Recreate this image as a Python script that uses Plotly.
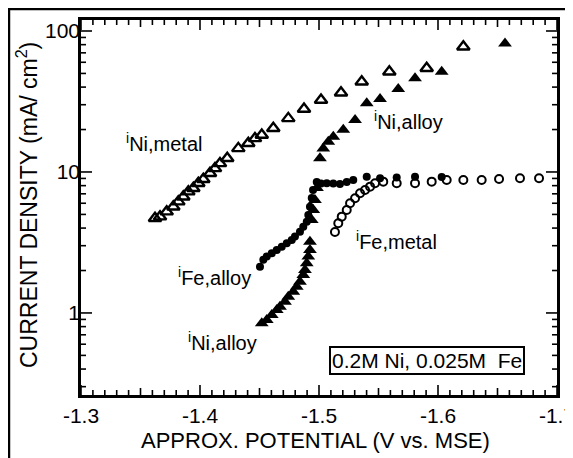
import math
import plotly.graph_objects as go

# ---------------- data ----------------
ni_metal_x = [-1.3622, -1.3664, -1.3720, -1.3776, -1.3818, -1.3860, -1.3902, -1.3944,
              -1.3986, -1.4028, -1.4084, -1.4126, -1.4168, -1.4229, -1.4322, -1.4406,
              -1.4462, -1.4519, -1.4616, -1.4742, -1.4874, -1.5017, -1.5185, -1.5359,
              -1.5591, -1.5905, -1.6213]
ni_metal_y = [4.70, 4.82, 5.23, 5.67, 6.16, 6.68, 7.25, 7.66,
              8.32, 8.88, 9.79, 10.6, 11.5, 12.5, 14.7, 16.0,
              17.3, 18.3, 20.4, 24.0, 28.0, 32.4, 36.5, 43.7,
              51.4, 54.4, 77.4]

ni_alloy_x = [-1.4519, -1.4561, -1.4603, -1.4645, -1.4672, -1.4714, -1.4742, -1.4784,
              -1.4813, -1.4840, -1.4868, -1.4882, -1.4897, -1.4910, -1.4924, -1.4924,
              -1.4939, -1.4952, -1.4966, -1.4983, -1.5008, -1.5036, -1.5078, -1.5120,
              -1.5204, -1.5303, -1.5401, -1.5513, -1.5666, -1.5807, -1.6031, -1.6563]
ni_alloy_y = [0.845, 0.892, 0.968, 1.05, 1.108, 1.20, 1.305, 1.416,
              1.536, 1.667, 1.86, 2.02, 2.25, 2.51, 2.80, 3.20,
              4.57, 5.38, 6.33, 7.70, 12.5, 14.7, 16.4, 17.8,
              19.9, 23.4, 30.7, 32.9, 38.8, 46.2, 51.4, 81.5]

fe_alloy_x = [-1.4504, -1.4532, -1.4561, -1.4603, -1.4645, -1.4687, -1.4729, -1.4771,
              -1.4798, -1.4840, -1.4868, -1.4897, -1.4910, -1.4924, -1.4939, -1.4950,
              -1.4981, -1.5017, -1.5065, -1.5120, -1.5176, -1.5233, -1.5288, -1.5401,
              -1.5513, -1.5653, -1.5807, -1.6031]
fe_alloy_y = [2.13, 2.38, 2.51, 2.65, 2.80, 2.95, 3.12, 3.29,
              3.48, 3.77, 4.09, 4.44, 4.95, 5.67, 6.54, 7.45,
              8.49, 8.29, 8.31, 8.29, 8.22, 8.49, 8.78, 9.26,
              9.02, 9.14, 9.26, 9.22]

fe_metal_x = [-1.5134, -1.5162, -1.5191, -1.5233, -1.5261, -1.5303, -1.5345, -1.5387,
              -1.5429, -1.5471, -1.5540, -1.5653, -1.5807, -1.5947, -1.6073, -1.6213,
              -1.6367, -1.6513, -1.6689, -1.6849]
fe_metal_y = [3.75, 4.33, 4.82, 5.38, 6.00, 6.51, 7.06, 7.45,
              7.87, 8.32, 8.54, 8.32, 8.32, 8.54, 8.78, 8.78,
              8.78, 8.92, 9.02, 9.02]

x_ticks = [-1.3, -1.4, -1.5, -1.6, -1.7]
x_ticktext = ["-1.3", "-1.4", "-1.5", "-1.6", "-1.7"]
y_ticks = [1, 10, 100]
y_ticktext = ["1", "10", "100"]

FONT = "Liberation Sans, Arial, sans-serif"

X_RANGE = [-1.3, -1.7]
Y_RANGE = [-0.582, 2.078]           # log10 range
PLOT_W, PLOT_H = 476, 375           # plot area in pixels

fig = go.Figure()

fig.add_trace(go.Scatter(x=fe_alloy_x, y=fe_alloy_y, mode="markers",
                         marker=dict(symbol="circle", size=8, color="black"),
                         showlegend=False))
fig.add_trace(go.Scatter(x=fe_metal_x, y=fe_metal_y, mode="markers",
                         marker=dict(symbol="circle-open", size=8, color="black",
                                     line=dict(width=2, color="black")),
                         showlegend=False))
fig.add_trace(go.Scatter(x=ni_metal_x, y=ni_metal_y, mode="markers",
                         marker=dict(symbol="triangle-up-open", size=11, color="black",
                                     line=dict(width=2.4, color="black")),
                         showlegend=False))
fig.add_trace(go.Scatter(x=ni_alloy_x, y=ni_alloy_y, mode="markers",
                         marker=dict(symbol="triangle-up", size=12, color="black"),
                         showlegend=False))

fig.update_xaxes(
    range=X_RANGE, tickmode="array", tickvals=x_ticks, ticktext=x_ticktext,
    ticks="", showline=True, linewidth=2.5, linecolor="black", mirror=True,
    showgrid=False, zeroline=False, automargin=False, ticklabeloverflow="allow",
    tickfont=dict(family=FONT, size=21, color="black"),
)
fig.update_yaxes(
    type="log", range=Y_RANGE, tickmode="array", tickvals=y_ticks,
    ticktext=y_ticktext,
    ticks="", showline=True, linewidth=2.5, linecolor="black", mirror=True,
    showgrid=False, zeroline=False, automargin=False, ticklabeloverflow="allow",
    tickfont=dict(family=FONT, size=21, color="black"),
    ticklabelstandoff=-6,
)

# ---- tick marks drawn inside the frame on all four sides ----
def xp(v):
    return (v - X_RANGE[0]) / (X_RANGE[1] - X_RANGE[0])

def yp(v):
    return (math.log10(v) - Y_RANGE[0]) / (Y_RANGE[1] - Y_RANGE[0])

tick_line = dict(color="black", width=1.6)
for k in range(41):
    v = -1.3 - 0.01 * k
    if k % 10 == 0:
        ln = 10
    elif k % 5 == 0:
        ln = 7
    else:
        ln = 5
    p = xp(v)
    fig.add_shape(type="line", xref="paper", yref="paper", x0=p, x1=p,
                  y0=0, y1=ln / PLOT_H, line=tick_line)
    fig.add_shape(type="line", xref="paper", yref="paper", x0=p, x1=p,
                  y0=1, y1=1 - ln / PLOT_H, line=tick_line)

for e in (-1, 0, 1, 2):
    for m in range(1, 10):
        v = m * 10 ** e
        if not (10 ** Y_RANGE[0] < v < 10 ** Y_RANGE[1]):
            continue
        ln = 11 if m == 1 else 5
        p = yp(v)
        fig.add_shape(type="line", xref="paper", yref="paper", y0=p, y1=p,
                      x0=0, x1=ln / PLOT_W, line=tick_line)
        fig.add_shape(type="line", xref="paper", yref="paper", y0=p, y1=p,
                      x0=1, x1=1 - ln / PLOT_W, line=tick_line)

# axis titles
fig.add_annotation(xref="paper", yref="paper", x=0.4916, y=-0.12,
                   text="APPROX. POTENTIAL (V vs. MSE)", showarrow=False,
                   font=dict(family=FONT, size=22, color="black"),
                   xanchor="center", yanchor="middle")
fig.add_annotation(xref="paper", yref="paper", x=-0.1134, y=0.5067,
                   text="CURRENT DENSITY (mA/ cm<sup>2</sup>)", showarrow=False,
                   textangle=-90,
                   font=dict(family=FONT, size=23, color="black"),
                   xanchor="center", yanchor="middle")

ann_font = dict(family=FONT, size=20, color="black")
labels = [
    ("<sup>i</sup>Ni,metal", -1.3698, 16.06),
    ("<sup>i</sup>Ni,alloy", -1.5756, 23.0),
    ("<sup>i</sup>Fe,alloy", -1.4118, 1.80),
    ("<sup>i</sup>Ni,alloy", -1.4193, 0.623),
    ("<sup>i</sup>Fe,metal", -1.5655, 3.29),
]
for txt, ax, ay in labels:
    fig.add_annotation(x=ax, y=math.log10(ay), text=txt, showarrow=False,
                       font=ann_font, xanchor="center", yanchor="middle")

fig.add_annotation(x=-1.5905, y=math.log10(0.458), text="0.2M Ni, 0.025M&nbsp; Fe",
                   showarrow=False, font=dict(family=FONT, size=21, color="black"),
                   bordercolor="black", borderwidth=2, borderpad=1,
                   bgcolor="white", xanchor="center", yanchor="middle")

# outer frame of the figure
fig.add_shape(type="rect", xref="paper", yref="paper", layer="below",
              x0=-0.1513, x1=1.0315, y0=-0.20, y1=1.0293,
              line=dict(color="black", width=2.5))

# the page body keeps its default 8 px margin, so the figure is 8 px smaller
fig.update_layout(
    width=565, height=450,
    margin=dict(l=73, r=16, t=12, b=63, autoexpand=False),
    paper_bgcolor="white", plot_bgcolor="white",
    showlegend=False,
    font=dict(family=FONT, color="black"),
)

fig.write_html("out.html", config={"displayModeBar": False})
